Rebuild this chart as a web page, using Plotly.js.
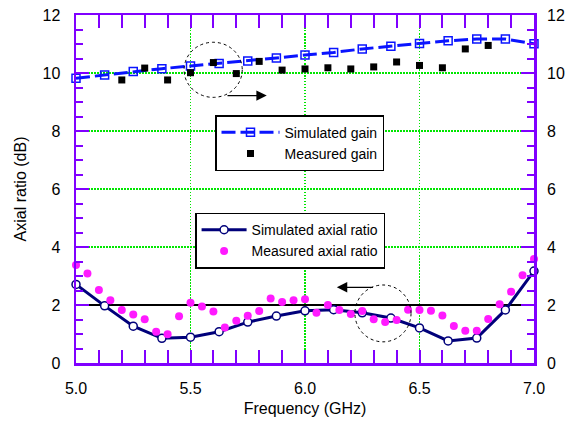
<!DOCTYPE html>
<html><head><meta charset="utf-8">
<script src="https://cdn.plot.ly/plotly-3.0.1.min.js"></script>
<style>html,body{margin:0;padding:0;background:#fff}#chart{width:569px;height:421px}</style>
</head><body><div id="chart"></div>
<script>
const simFreq = [5.0,5.125,5.25,5.375,5.5,5.625,5.75,5.875,6.0,6.125,6.25,6.375,6.5,6.625,6.75,6.875,7.0];
const simGain = [9.82,9.93,10.05,10.15,10.24,10.33,10.41,10.52,10.62,10.71,10.83,10.92,11.02,11.11,11.17,11.17,11.01];
const measGainFreq = [5.2,5.3,5.4,5.5,5.6,5.7,5.8,5.9,6.0,6.1,6.2,6.3,6.4,6.5,6.6,6.7,6.8];
const measGain = [9.76,10.17,9.76,10.01,10.36,9.98,10.40,10.10,10.14,10.18,10.14,10.21,10.38,10.26,10.18,10.83,10.95];
const simAR = [2.71,1.97,1.27,0.85,0.89,1.08,1.41,1.62,1.80,1.84,1.73,1.55,1.21,0.76,0.86,1.83,3.17];
const measARFreq = [5.0,5.05,5.1,5.15,5.2,5.25,5.3,5.35,5.4,5.45,5.5,5.55,5.6,5.65,5.7,5.75,5.8,5.85,5.9,5.95,6.0,6.05,6.1,6.15,6.2,6.25,6.3,6.35,6.4,6.45,6.5,6.55,6.6,6.65,6.7,6.75,6.8,6.85,6.9,6.95,7.0];
const measAR = [3.38,3.09,2.52,2.16,1.83,1.67,1.51,1.08,0.99,1.61,2.08,1.95,1.78,1.22,1.46,1.63,1.79,2.22,2.10,2.16,2.20,1.73,2.00,1.83,1.69,1.79,1.51,1.41,1.48,1.84,1.83,1.80,1.64,1.28,1.11,1.11,1.52,2.03,2.46,3.03,3.59];
const refLevel = 2;

const FONT = 'Liberation Sans, Arial, sans-serif';
const PURPLE = '#8000ff';
const GRID = '#00e600';

const traces = [
  {x: simFreq, y: simGain, yaxis: 'y2', name: 'Simulated gain', mode: 'lines+markers', legend: 'legend',
   line: {color: '#0a14ff', width: 3, dash: '14px,5px'},
   marker: {symbol: 'square-open', size: 8, color: '#0a14ff', line: {width: 1.5}}, cliponaxis: false},
  {x: measGainFreq, y: measGain, yaxis: 'y2', name: 'Measured gain', mode: 'markers', legend: 'legend',
   marker: {symbol: 'square', size: 7, color: '#000'}, cliponaxis: false},
  {x: simFreq, y: simAR, name: 'Simulated axial ratio', mode: 'lines+markers', legend: 'legend2',
   line: {color: '#00007a', width: 3},
   marker: {symbol: 'circle', size: 8, color: '#fff', line: {color: '#00007a', width: 1.5}}, cliponaxis: false},
  {x: measARFreq, y: measAR, name: 'Measured axial ratio', mode: 'markers', legend: 'legend2',
   marker: {symbol: 'circle', size: 8, color: '#ff1aff'}, cliponaxis: false}
];

const baseAxis = {
  showline: true, linecolor: PURPLE, linewidth: 2.5,
  ticks: 'inside', ticklen: 13, tickwidth: 2, tickcolor: PURPLE,
  showgrid: true, gridcolor: GRID, gridwidth: 1.5, griddash: '1.5px,1.5px',
  zeroline: false, tickfont: {family: FONT, size: 16, color: '#000'}
};

const layout = {
  width: 569, height: 421,
  margin: {l: 76, r: 35, t: 15, b: 58},
  paper_bgcolor: '#fff', plot_bgcolor: '#fff',
  font: {family: FONT, color: '#000'},
  showlegend: true,
  xaxis: Object.assign({}, baseAxis, {
    range: [5, 7], dtick: 0.5, tick0: 5, tickformat: '.1f', mirror: 'allticks',
    ticklabelstandoff: 9,
    minor: {dtick: 0.1, ticklen: 7, tickwidth: 2, tickcolor: PURPLE, ticks: 'inside', showgrid: false},
    title: {text: 'Frequency (GHz)', font: {family: FONT, size: 16}, standoff: 7}
  }),
  yaxis: Object.assign({}, baseAxis, {
    range: [0, 12], dtick: 2, tick0: 0, mirror: 'allticks',
    ticklabelstandoff: 10,
    minor: {dtick: 0.5, ticklen: 7, tickwidth: 2, tickcolor: PURPLE, ticks: 'inside', showgrid: false},
    title: {text: 'Axial ratio (dB)', font: {family: FONT, size: 16}, standoff: 12}
  }),
  yaxis2: {
    overlaying: 'y', side: 'right', range: [0, 12], dtick: 2, tick0: 0,
    showline: false, ticks: '', showgrid: false, zeroline: false,
    ticklabelstandoff: 12,
    tickfont: {family: FONT, size: 16, color: '#000'}
  },
  legend: {x: 0.3035, y: 0.712, xanchor: 'left', yanchor: 'top', bgcolor: '#fff',
    bordercolor: '#000', borderwidth: 1.5, font: {family: FONT, size: 14}, itemwidth: 58, tracegroupgap: 0},
  legend2: {x: 0.26, y: 0.432, xanchor: 'left', yanchor: 'top', bgcolor: '#fff',
    bordercolor: '#000', borderwidth: 1.5, font: {family: FONT, size: 14}, itemwidth: 45, tracegroupgap: 0},
  shapes: [
    {type: 'line', xref: 'x', yref: 'y', x0: 5, x1: 7, y0: refLevel, y1: refLevel, layer: 'between',
     line: {color: '#000', width: 2}},
    {type: 'circle', xref: 'x', yref: 'y', x0: 5.472, x1: 5.726, y0: 9.16, y1: 11.06,
     line: {color: '#000', width: 1, dash: 'dot'}},
    {type: 'circle', xref: 'x', yref: 'y', x0: 6.218, x1: 6.463, y0: 0.73, y1: 2.69,
     line: {color: '#000', width: 1, dash: 'dot'}}
  ],
  annotations: [
    {xref: 'x', yref: 'y', axref: 'x', ayref: 'y', x: 5.833, y: 9.22, ax: 5.655, ay: 9.22,
     text: '', showarrow: true, arrowhead: 2, arrowsize: 1.6, arrowwidth: 1.3, arrowcolor: '#000'},
    {xref: 'x', yref: 'y', axref: 'x', ayref: 'y', x: 6.139, y: 2.61, ax: 6.303, ay: 2.61,
     text: '', showarrow: true, arrowhead: 2, arrowsize: 1.6, arrowwidth: 1.3, arrowcolor: '#000'}
  ]
};

Plotly.newPlot('chart', traces, layout, {displayModeBar: false, staticPlot: true});
</script></body></html>
